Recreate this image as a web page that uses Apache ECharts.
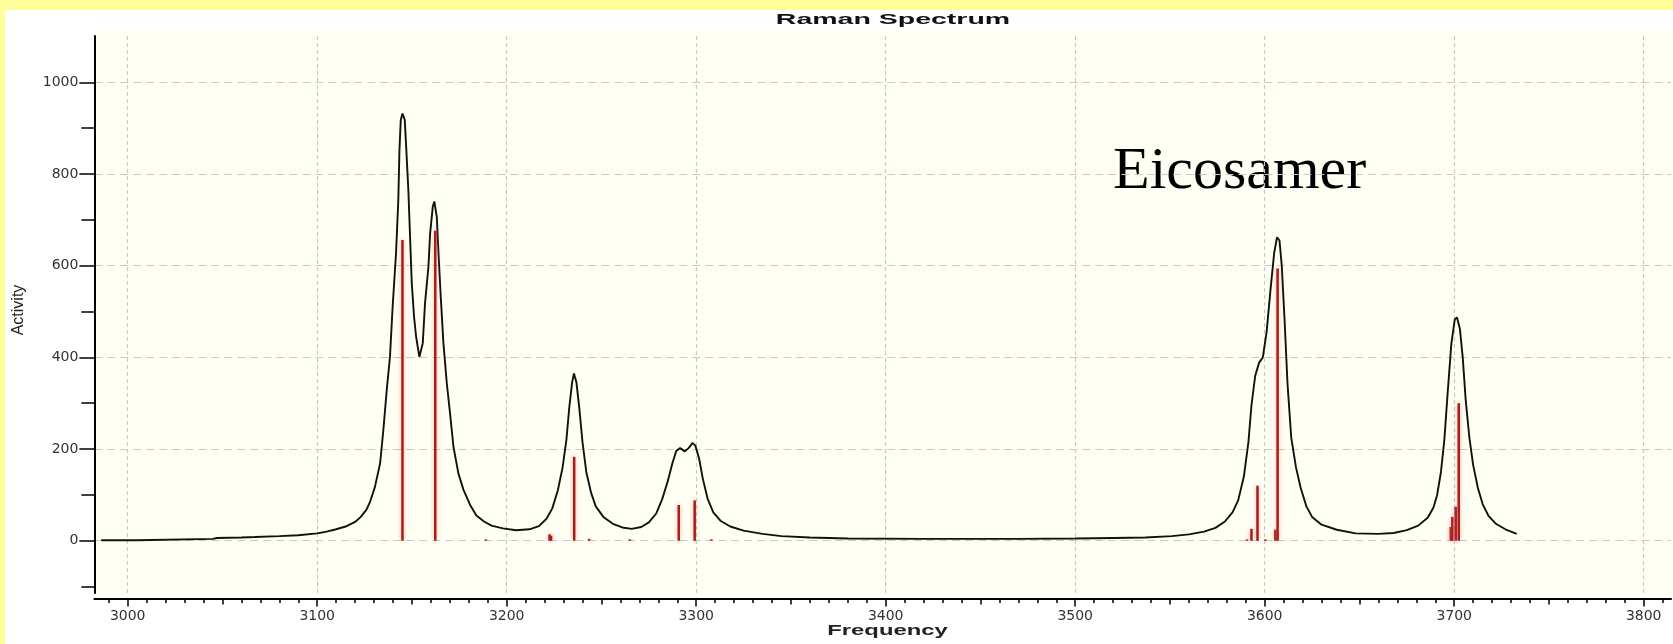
<!DOCTYPE html>
<html>
<head>
<meta charset="utf-8">
<script src="https://cdn.jsdelivr.net/npm/echarts@6/dist/echarts.min.js"></script>
<style>
html,body{margin:0;padding:0;background:#ffffff;}
#chart{width:1673px;height:644px;}
</style>
</head>
<body>
<div id="chart"></div>
<script>
// ---- Data ----
const spectrumFreq = [2986,3005,3006,3045,3047,3060,3067,3080,3090,3100,3105,3110,3115,3120,3123,3126,3128,
  3130.5,3133.2,3134.9,3136.7,3138.4,3139.8,3141.6,3142.8,3143.4,3144.1,3145,3146.2,3146.9,3148.1,3149,3149.9,
  3151.1,3152.2,3153.9,3155.7,3156.9,3158.7,3159.6,3161,3161.8,3163.1,3164,3165.2,3166.6,3168.4,3170.1,3171.9,
  3174.5,3177.2,3180.7,3184,3188,3192,3198,3205,3212,3217,3221,3224,3227,3229.5,3231.5,3233,3234.5,3235.5,
  3236.8,3238.3,3240,3242,3244.5,3247,3251,3256,3261,3266,3271,3275,3279,3282,3285,3287.5,3289.5,3291.5,3294,
  3296,3298,3299.5,3301.5,3303.5,3306,3309,3313,3318,3325,3335,3345,3360,3380,3420,3470,3500,3520,3537,3551,
  3560,3568,3574,3579,3583,3586,3589,3591.4,3593,3595,3597,3599,3601,3603,3605,3606.5,3607.8,3609,3610.5,3612,
  3614,3616.5,3619,3622,3625,3630,3638,3648,3660,3668,3675,3681,3686,3689,3691,3693,3694.8,3696.5,3698.5,
  3700.3,3701.5,3703,3704.5,3706,3708,3710,3712.5,3715,3718,3722,3727,3733];
const spectrumActivity = [1,1,4,4,6,7,8,10,12,16,20,25,31,41,52,68,86,
  118,169,241,329,401,510,627,743,852,918,932,918,863,765,663,562,
  489,445,401,431,518,598,671,729,740,707,627,532,431,343,278,205,
  147,111,78,55,42,33,27,23,25,32,48,70,110,160,220,290,345,365,
  345,290,215,150,105,75,52,37,29,26,30,40,60,90,130,170,196,202,195,
  202,213,208,180,135,92,62,43,31,22,15,10,7,5,4,4,5,6,7,10,
  14,20,28,42,62,88,140,215,295,360,388,400,455,545,628,662,655,600,480,345,
  225,160,115,75,52,35,24,16,15,17,23,33,50,72,100,150,220,320,430,
  483,487,462,400,310,225,165,115,80,55,37,25,15];

const stickFreq = [3145,3162.3,3189,3222.6,3223.4,3235.6,3243.5,3265,3290.8,3299.2,3308,
  3590.7,3593,3596.2,3600.3,3605.6,3606.8,3698.2,3699,3700.8,3702.4];
const stickActivity = [656,676,3,14,11,183,4,3,78,88,3,
  3,26,120,3,24,594,30,52,74,300];

// ---- Axis tick values / tick labels ----
const xLabelValues = [3000,3100,3200,3300,3400,3500,3600,3700,3800];
const xMidTickValues = [3000,3050,3100,3150,3200,3250,3300,3350,3400,3450,3500,3550,3600,3650,3700,3750,3800];
const xMinorTickValues = [];
for (let t = 2990; t <= 3810; t += 10) xMinorTickValues.push(t);
const yLabelValues = [0,200,400,600,800,1000];
const yTickValues = [-100,0,100,200,300,400,500,600,700,800,900,1000];

const xMin = 2982.4, xMax = 3814.4, yMin = -114, yMax = 1101;

const tickStyle = {color:'#000', width:1.5};
const labelStyle = {color:'#333', fontFamily:'DejaVu Sans', fontSize:14, formatter: v => String(v)};

const xBase = {type:'value', min:xMin, max:xMax, position:'bottom', offset:6};
const yBase = {type:'value', min:yMin, max:yMax, position:'left'};

const chart = echarts.init(document.getElementById('chart'), null, {renderer:'canvas', width:1673, height:644});
chart.setOption({
  animation:false,
  backgroundColor:'#ffffff',
  grid:{left:94.35, right:2, top:36, bottom:51, containLabel:false, outerBoundsMode:'none'},
  graphic:[
    {type:'rect', z:-20, silent:true, shape:{x:95, y:30, width:1578, height:569}, style:{fill:'#fffff3'}},
    {type:'rect', z:-20, silent:true, shape:{x:0, y:0, width:1673, height:10}, style:{fill:'#ffff99'}},
    {type:'rect', z:-20, silent:true, shape:{x:0, y:0, width:5, height:644}, style:{fill:'#ffff99'}},
    {type:'text', x:893, y:20, scaleX:1.9, silent:true,
      style:{text:'Raman Spectrum', fontFamily:'Liberation Sans', fontWeight:'bold', fontSize:15, fill:'#111',
             align:'center', verticalAlign:'middle', textAlign:'center', textVerticalAlign:'middle'}},
    {type:'text', x:887.5, y:631, scaleX:1.7, silent:true,
      style:{text:'Frequency', fontFamily:'Liberation Sans', fontWeight:'bold', fontSize:14, fill:'#222',
             align:'center', verticalAlign:'middle', textAlign:'center', textVerticalAlign:'middle'}},
    {type:'text', x:19, y:310, rotation:Math.PI/2, silent:true,
      style:{text:'Activity', fontFamily:'Liberation Sans', fontSize:16, fill:'#222',
             align:'center', verticalAlign:'middle', textAlign:'center', textVerticalAlign:'middle'}},
    {type:'text', x:1113, y:172, silent:true,
      style:{text:'Eicosamer', fontFamily:'Liberation Serif', fontSize:60, fill:'#000',
             align:'left', verticalAlign:'middle', textAlign:'left', textVerticalAlign:'middle'}}
  ],
  xAxis:[
    Object.assign({}, xBase, {
      axisLine:{show:true, onZero:false, lineStyle:{color:'#000', width:2}},
      axisTick:{show:true, customValues:xMinorTickValues, length:4, lineStyle:tickStyle},
      axisLabel:Object.assign({customValues:xLabelValues, margin:10}, labelStyle),
      splitLine:{show:false}
    }),
    Object.assign({}, xBase, {
      axisLine:{show:false, onZero:false},
      axisTick:{show:true, customValues:xMidTickValues, length:5.5, lineStyle:tickStyle},
      axisLabel:{show:false},
      splitLine:{show:false}
    }),
    Object.assign({}, xBase, {
      axisLine:{show:false, onZero:false},
      axisTick:{show:true, customValues:xLabelValues, length:7.5, lineStyle:tickStyle},
      axisLabel:{show:false},
      splitLine:{show:true, lineStyle:{color:'#c9c9c9', type:[4,3], width:1.2}}
    })
  ],
  yAxis:[
    Object.assign({}, yBase, {
      axisLine:{show:true, onZero:false, lineStyle:{color:'#000', width:2}},
      axisTick:{show:true, customValues:yTickValues, length:13, lineStyle:tickStyle},
      axisLabel:Object.assign({customValues:yLabelValues, margin:16}, labelStyle),
      splitLine:{show:false}
    }),
    Object.assign({}, yBase, {
      axisLine:{show:false, onZero:false},
      axisTick:{show:true, customValues:yLabelValues, length:15, lineStyle:tickStyle},
      axisLabel:{show:false},
      splitLine:{show:true, lineStyle:{color:'#c9c9c9', type:[8,5], width:1.2}}
    })
  ],
  series:[
    {
      type:'line', xAxisIndex:0, yAxisIndex:0, z:3,
      data: spectrumFreq.map((f,i) => [f, spectrumActivity[i]]),
      symbol:'none', showSymbol:false,
      lineStyle:{color:'#111', width:1.9}
    },
    {
      type:'bar', xAxisIndex:0, yAxisIndex:0, z:4,
      data: stickFreq.map((f,i) => [f, stickActivity[i]]),
      barWidth:2.5,
      itemStyle:{color:'#a81c1c', shadowBlur:4, shadowColor:'rgba(225,110,110,0.6)'}
    }
  ]
});
</script>
</body>
</html>
